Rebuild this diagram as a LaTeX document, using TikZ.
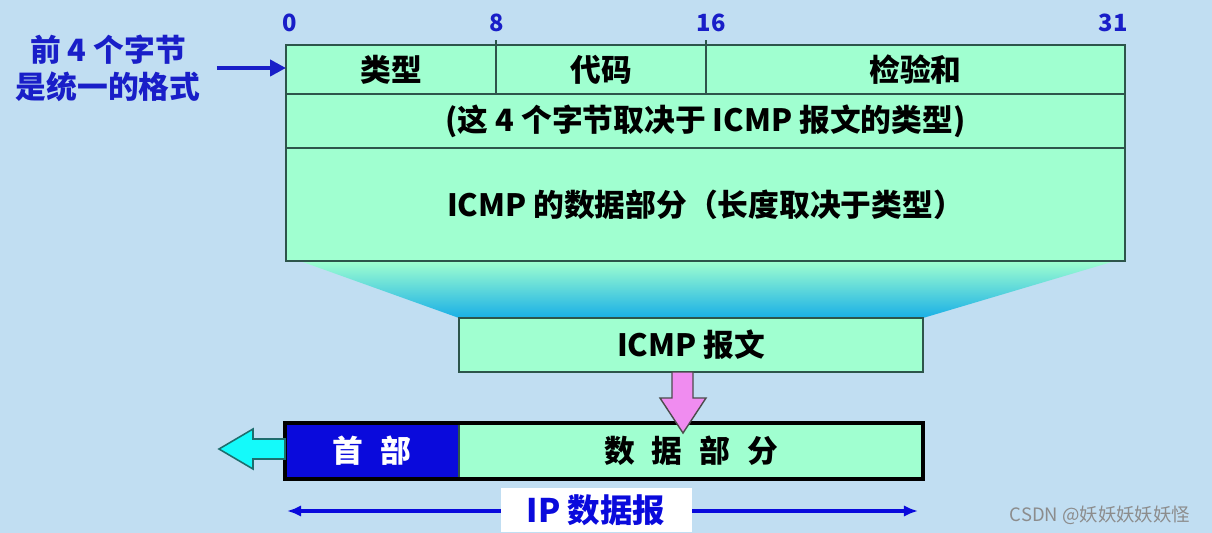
\documentclass[tikz,border=0pt]{standalone}
\usepackage{fontspec}
\setmainfont{Noto Sans CJK SC}
\usetikzlibrary{arrows.meta}

\definecolor{bgblue}{RGB}{193,222,242}
\definecolor{fieldgreen}{RGB}{160,255,208}
\definecolor{fieldline}{RGB}{45,85,75}
\definecolor{labelblue}{RGB}{25,30,200}
\definecolor{hdrblue}{RGB}{10,10,220}
\definecolor{funnelblue}{RGB}{25,175,230}
\definecolor{funnelmid}{RGB}{110,235,225}
\definecolor{dropfill}{RGB}{240,140,240}
\definecolor{backfill}{RGB}{20,250,250}
\definecolor{backline}{RGB}{30,110,110}

\begin{document}
\begin{tikzpicture}[x=0.02cm, y=-0.02cm,
	wd/.style={minimum width=#1*0.02cm},
	ht/.style={minimum height=#1*0.02cm},
	field/.style={draw=fieldline, fill=fieldgreen, line width=1.1pt, inner sep=0pt, outer sep=0pt,
		anchor=north west, font=\fontsize{17.5}{20}\selectfont\bfseries},
	bitno/.style={text=labelblue, font=\fontsize{13.5}{15}\selectfont\bfseries},
	bluetext/.style={text=labelblue, font=\fontsize{17.5}{21}\selectfont\bfseries}]
	\useasboundingbox[fill=bgblue] (0,0) rectangle (1212,533);

	% funnel from the ICMP fields down to the message
	\shade[top color=fieldgreen, middle color=funnelmid, bottom color=funnelblue]
		(300,261) -- (1115,261) -- (923,318) -- (459,318) -- cycle;

	% ICMP message layout
	\node[field, wd=210, ht=49] (type) at (286,45) {类型};
	\node[field, wd=210, ht=49] (code) at (496,45) {代码};
	\node[field, wd=419, ht=49] (chksum) at (706,45) {检验和};
	\node[field, wd=839, ht=54] (rest) at (286,94) {(这 4 个字节取决于 ICMP 报文的类型)};
	\node[field, wd=839, ht=113] (body) at (286,148) {ICMP 的数据部分（长度取决于类型）};
	\draw[fieldline, line width=1.1pt] (type.north east) -- ++(0,-5);
	\draw[fieldline, line width=1.1pt] (code.north east) -- ++(0,-5);

	\node[bitno] (b0) at (290,23) {0};
	\node[bitno] (b8) at (497,23) {8};
	\node[bitno] (b16) at (711,23) {16};
	\node[bitno] (b31) at (1113,23) {31};

	\node[bluetext, align=center] (lead) at (108,68) {前 4 个字节\\是统一的格式};
	\draw[labelblue, line width=2.6pt, -{Triangle[length=9pt,width=9pt]}]
		([xshift=6pt]lead.east) -- (type.west |- lead.east);

	\node[field, wd=464, ht=54] (msg) at (459,318) {ICMP 报文};

	% IP datagram
	\node[field, wd=174, ht=56, fill=hdrblue, text=white] (hdr) at (285,423) {首\hspace{0.55em}部};
	\node[field, wd=464, ht=56] (ipdata) at (459,423) {数\hspace{0.55em}据\hspace{0.55em}部\hspace{0.55em}分};
	\draw[black, line width=2.3pt] (hdr.north west) rectangle (ipdata.south east);

	\draw[fill=dropfill, draw=black!70, line width=0.8pt]
		(672,372) -- (693,372) -- (693,398) -- (706,398) -- (683,433) -- (660,398) -- (672,398) -- cycle;
	\draw[fill=backfill, draw=backline, line width=0.9pt]
		(219,449) -- (253,429) -- (253,439) -- (hdr.west |- 0,439) -- (hdr.west |- 0,459) -- (253,459) -- (253,469) -- cycle;

	\coordinate (lenL) at (287,511);
	\coordinate (lenR) at (918,511);
	\draw[hdrblue, line width=2.2pt, {Latex[length=8pt,width=6.5pt]}-{Latex[length=8pt,width=6.5pt]}] (lenL) -- (lenR);
	\node[fill=white, text=hdrblue, font=\fontsize{18.5}{20}\selectfont\bfseries, wd=191, ht=44, inner sep=0pt] (iplabel) at (596,510) {IP 数据报};

	\node[text=black!45, font=\fontsize{10.5}{12}\selectfont] (mark) at (1100,515) {CSDN @妖妖妖妖妖怪};
\end{tikzpicture}
\end{document}
